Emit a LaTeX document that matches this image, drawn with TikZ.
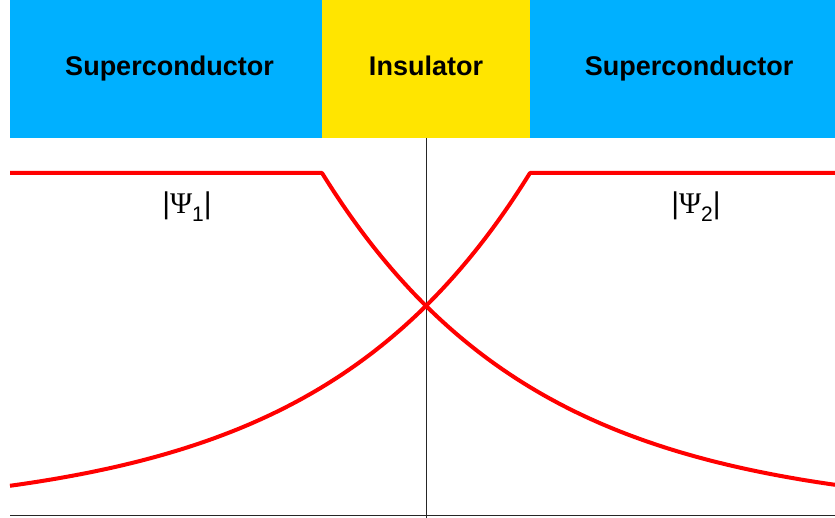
\documentclass[tikz,border=0pt]{standalone}
\usepackage{fontspec}
\setmainfont{Liberation Sans}
\newfontfamily\psifont{Liberation Serif}
\definecolor{scblue}{RGB}{0,176,255}
\definecolor{insyellow}{RGB}{255,229,0}
\begin{document}
\begin{tikzpicture}[x=1pt,y=-1pt,
  lbl/.style={font=\fontsize{27}{30}\selectfont\bfseries, inner sep=0pt, anchor=base},
  psil/.style={font=\fontsize{30}{32}\selectfont, inner sep=0pt, anchor=base},
  wave/.style={red, line width=4pt, line join=round},
  axis/.style={black!85, line width=1pt}]
\useasboundingbox (0,0) rectangle (835,518);
\fill[scblue] (10,0) rectangle (835,138.5);
\fill[insyellow] (322,0) rectangle (530,138.5);
\node[lbl] (sc1) at (169.5,76) {Superconductor};
\node[lbl] (ins) at (426,76) {Insulator};
\node[lbl] (sc2) at (689,76) {Superconductor};
\coordinate (vtop) at (426,138.5);
\coordinate (vbot) at (426,518);
\coordinate (bl) at (10,515.5);
\coordinate (br) at (835,515.5);
\draw[axis] (vtop) -- (vbot);
\draw[axis] (bl) -- (br);
\draw[wave] (10,173) -- (322,173) -- plot[domain=322:835, samples=120] (\x, {515-342*exp(-0.004736*(\x-322))});
\draw[wave] (835,173) -- (530,173) -- plot[domain=530:10, samples=120] (\x, {515-342*exp(-0.004736*(530-\x))});
\node[psil] (psi1) at (187,214) {|{\psifont Ψ}\raisebox{-8pt}{\fontsize{21}{22}\selectfont 1}|};
\node[psil] (psi2) at (696,214) {|{\psifont Ψ}\raisebox{-8pt}{\fontsize{21}{22}\selectfont 2}|};
\end{tikzpicture}
\end{document}
